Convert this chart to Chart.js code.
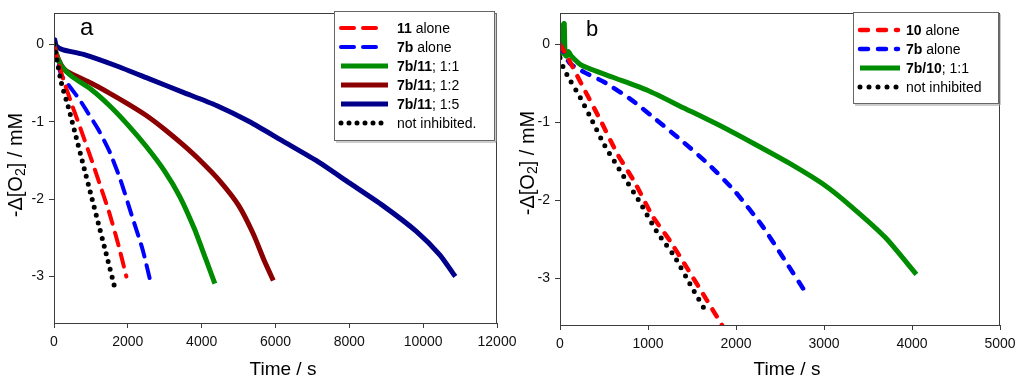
<!DOCTYPE html>
<html>
<head>
<meta charset="utf-8">
<script src="https://cdn.jsdelivr.net/npm/chart.js@4.4.1/dist/chart.umd.min.js"></script>
<style>
  html, body { margin: 0; padding: 0; background: #fff; }
  #wrap { position: relative; width: 1024px; height: 379px; overflow: hidden; }
  .panel { position: absolute; top: 0; }
  #pa { left: 0; }
  #pb { left: 512px; }
</style>
</head>
<body>
<div id="wrap">
  <div class="panel" id="pa"><canvas id="chartA" width="540" height="379"></canvas></div>
  <div class="panel" id="pb"><canvas id="chartB" width="512" height="379"></canvas></div>
</div>
<script>
// ---- panel a : time (s) and -d[O2] (mM) ----
const tA11 = [0, 100, 250, 500, 750, 1000, 1250, 1500, 1750, 1960];
const vA11 = [0, -0.2, -0.45, -0.8, -1.13, -1.47, -1.82, -2.18, -2.6, -3.0];
const tA7b = [0, 100, 200, 450, 700, 900, 1200, 1500, 1800, 2100, 2400, 2640];
const vA7b = [0, -0.22, -0.4, -0.56, -0.72, -0.87, -1.1, -1.38, -1.75, -2.2, -2.65, -3.12];
const tA11r = [0, 60, 200, 500, 1000, 1500, 2000, 2500, 3000, 3400, 3800, 4100, 4357];
const vA11r = [0, -0.12, -0.28, -0.42, -0.58, -0.79, -1.04, -1.32, -1.64, -1.96, -2.38, -2.76, -3.09];
const tA12r = [0, 60, 200, 350, 1000, 1500, 2000, 2500, 3000, 3500, 4000, 4500, 5000, 5400, 5700, 5940];
const vA12r = [0, -0.12, -0.27, -0.35, -0.5, -0.63, -0.77, -0.92, -1.1, -1.3, -1.52, -1.77, -2.08, -2.45, -2.8, -3.05];
const tA15r = [0, 20, 60, 250, 800, 1700, 2600, 3500, 4400, 5300, 6200, 7100, 8000, 8900, 9800, 10450, 10870];
const vA15r = [0.02, 0.06, -0.02, -0.07, -0.13, -0.28, -0.45, -0.62, -0.79, -1.0, -1.25, -1.5, -1.79, -2.08, -2.41, -2.72, -3.0];
const tAnone = [0, 80, 200, 400, 600, 800, 1000, 1200, 1400, 1660];
const vAnone = [0, -0.2, -0.5, -0.83, -1.2, -1.57, -1.94, -2.31, -2.68, -3.17];
const legendA = [['11', ' alone'], ['7b', ' alone'], ['7b/11', '; 1:1'], ['7b/11', '; 1:2'], ['7b/11', '; 1:5'], ['', 'not inhibited.']];
const xTicksA = [0, 2000, 4000, 6000, 8000, 10000, 12000];

// ---- panel b ----
const tB10 = [0, 80, 250, 450, 650, 850, 1050, 1250, 1450, 1630, 1840];
const vB10 = [0, -0.15, -0.52, -0.95, -1.4, -1.77, -2.2, -2.52, -2.88, -3.21, -3.6];
const tB7b = [0, 110, 300, 500, 800, 1100, 1400, 1700, 2000, 2300, 2550, 2790];
const vB7b = [0, -0.24, -0.37, -0.48, -0.7, -0.97, -1.25, -1.55, -1.9, -2.33, -2.76, -3.18];
const tB11r = [0, 25, 35, 48, 58, 75, 95, 130, 250, 600, 1000, 1400, 1800, 2200, 2600, 3000, 3300, 3700, 4050];
const vB11r = [-0.13, -0.1, 0.25, 0.27, -0.13, -0.15, -0.09, -0.15, -0.27, -0.42, -0.59, -0.81, -1.03, -1.27, -1.52, -1.8, -2.07, -2.48, -2.95];
const tBnone = [0, 40, 110, 230, 340, 500, 700, 900, 1100, 1300, 1500, 1670];
const vBnone = [-0.17, -0.3, -0.45, -0.68, -0.92, -1.28, -1.65, -2.01, -2.4, -2.72, -3.12, -3.45];
const legendB = [['10', ' alone'], ['7b', ' alone'], ['7b/10', '; 1:1'], ['', 'not inhibited']];
const xTicksB = [0, 1000, 2000, 3000, 4000, 5000];

const yTicks = [-3, -2, -1, 0];

const FONT = '"Liberation Sans", Arial, sans-serif';

function pts(t, v) {
  return t.map((x, i) => ({x: x, y: v[i]}));
}

function line(t, v, color, width, dash, order) {
  return {
    data: pts(t, v),
    borderColor: color,
    borderWidth: width,
    borderDash: dash,
    borderCapStyle: dash.length ? 'round' : 'butt',
    borderJoinStyle: 'round',
    pointRadius: 0,
    fill: false,
    tension: 0.2,
    order: order
  };
}

// draws the frame, panel letter, axis titles and the legend box
const framePlugin = {
  id: 'frame',
  afterDraw(chart, args, o) {
    const {ctx, chartArea: a} = chart;
    ctx.save();
    ctx.strokeStyle = '#3c3c3c';
    ctx.lineWidth = 1;
    ctx.strokeRect(Math.round(a.left) + 0.5, Math.round(a.top) + 0.5,
                   Math.round(a.right - a.left) - 1, Math.round(a.bottom - a.top));

    ctx.fillStyle = '#000';
    ctx.textBaseline = 'alphabetic';
    ctx.textAlign = 'left';
    ctx.font = o.letterSize + 'px ' + FONT;
    ctx.fillText(o.letter, o.letterX, o.letterY);

    // x title
    ctx.textAlign = 'center';
    ctx.font = '19px ' + FONT;
    ctx.fillText('Time / s', o.xTitleX, o.xTitleY);

    // y title with subscript
    ctx.save();
    ctx.translate(o.yTitleX, o.yTitleY);
    ctx.rotate(-Math.PI / 2);
    const parts = [['-\u0394[O', 20, 0], ['2', 14, 5], ['] / mM', 20, 0]];
    let total = 0;
    parts.forEach(p => { ctx.font = p[1] + 'px ' + FONT; total += ctx.measureText(p[0]).width; });
    let x = -total / 2;
    ctx.textAlign = 'left';
    ctx.textBaseline = 'middle';
    parts.forEach(p => {
      ctx.font = p[1] + 'px ' + FONT;
      ctx.fillText(p[0], x, p[2] + 1);
      x += ctx.measureText(p[0]).width;
    });
    ctx.restore();

    // legend
    const L = o.legend;
    ctx.fillStyle = '#fff';
    ctx.fillRect(L.x, L.y, L.w, L.h);
    ctx.strokeStyle = '#666';
    ctx.lineWidth = 1;
    ctx.strokeRect(L.x + 0.5, L.y + 0.5, L.w, L.h);
    ctx.strokeStyle = '#999';
    ctx.beginPath();
    ctx.moveTo(L.x + L.w + 2, L.y + 2);
    ctx.lineTo(L.x + L.w + 2, L.y + L.h + 2);
    ctx.lineTo(L.x + 2, L.y + L.h + 2);
    ctx.stroke();

    chart.data.datasets.forEach((ds, i) => {
      const y = L.row0 + i * L.step;
      ctx.save();
      ctx.strokeStyle = ds.borderColor;
      ctx.lineWidth = ds.borderWidth;
      ctx.setLineDash(ds.borderDash);
      ctx.lineCap = ds.borderCapStyle;
      ctx.beginPath();
      ctx.moveTo(L.s0, y);
      ctx.lineTo(ds.borderDash.length && ds.borderDash[0] > 0 ? L.sDash : L.s1, y);
      ctx.stroke();
      ctx.restore();
      const lab = o.labels[i];
      ctx.fillStyle = '#000';
      ctx.textAlign = 'left';
      ctx.textBaseline = 'middle';
      ctx.font = 'bold 14px ' + FONT;
      ctx.fillText(lab[0], L.tx, y + 1);
      const w = ctx.measureText(lab[0]).width;
      ctx.font = '14px ' + FONT;
      ctx.fillText(lab[1], L.tx + w, y + 1);
    });
    ctx.restore();
  }
};

function scales(xMax, xTicks, yWidth, xHeight) {
  const grid = {drawOnChartArea: false, drawTicks: true, tickLength: 5, color: '#3c3c3c'};
  const tickFont = {family: FONT, size: 14};
  return {
    x: {
      type: 'linear', min: 0, max: xMax,
      grid: grid,
      border: {display: true, color: '#3c3c3c'},
      ticks: {font: tickFont, color: '#111', padding: 6, maxRotation: 0, callback: v => String(v)},
      afterBuildTicks: s => { s.ticks = xTicks.map(v => ({value: v})); },
      afterFit: s => { s.height = xHeight; }
    },
    y: {
      type: 'linear', min: -3.6, max: 0.4,
      grid: grid,
      border: {display: true, color: '#3c3c3c'},
      ticks: {font: tickFont, color: '#111', padding: 5, callback: v => String(v)},
      afterBuildTicks: s => { s.ticks = yTicks.map(v => ({value: v})); },
      afterFit: s => { s.width = yWidth; }
    }
  };
}

new Chart(document.getElementById('chartA').getContext('2d'), {
  type: 'line',
  data: {
    datasets: [
      line(tA11, vA11, '#ff0000', 4, [13, 9], 3),
      line(tA7b, vA7b, '#0000ff', 4, [13, 9], 4),
      line(tA11r, vA11r, '#008c00', 5, [], 5),
      line(tA12r, vA12r, '#8b0000', 5, [], 6),
      line(tA15r, vA15r, '#00008b', 5, [], 7),
      line(tAnone, vAnone, '#000000', 5, [0, 8], 1)
    ]
  },
  options: {
    responsive: false,
    animation: false,
    layout: {padding: {left: 0, right: 43, top: 6, bottom: 0}},
    scales: scales(12000, xTicksA, 54, 56),
    plugins: {
      legend: {display: false},
      tooltip: {enabled: false},
      frame: {
        letter: 'a', letterSize: 24, letterX: 80, letterY: 35,
        xTitleX: 283, xTitleY: 375, yTitleX: 15, yTitleY: 165,
        labels: legendA,
        legend: {x: 334, y: 11, w: 160, h: 129, row0: 28, step: 19, s0: 341, s1: 388, sDash: 377, tx: 397}
      }
    }
  },
  plugins: [framePlugin]
});

new Chart(document.getElementById('chartB').getContext('2d'), {
  type: 'line',
  data: {
    datasets: [
      line(tB10, vB10, '#ff0000', 4.5, [8, 10], 2),
      line(tB7b, vB7b, '#0000ff', 4.5, [8, 10], 3),
      line(tB11r, vB11r, '#008c00', 5, [], 4),
      line(tBnone, vBnone, '#000000', 5, [0, 9], 1)
    ]
  },
  options: {
    responsive: false,
    animation: false,
    layout: {padding: {left: 0, right: 24, top: 7, bottom: 0}},
    scales: scales(5000, xTicksB, 48, 54),
    plugins: {
      legend: {display: false},
      tooltip: {enabled: false},
      frame: {
        letter: 'b', letterSize: 22, letterX: 74, letterY: 36,
        xTitleX: 275, xTitleY: 375, yTitleX: 15, yTitleY: 163,
        labels: legendB,
        legend: {x: 341, y: 12, w: 145, h: 91, row0: 30, step: 19, s0: 348, s1: 388, sDash: 386, tx: 394}
      }
    }
  },
  plugins: [framePlugin]
});
</script>
</body>
</html>
